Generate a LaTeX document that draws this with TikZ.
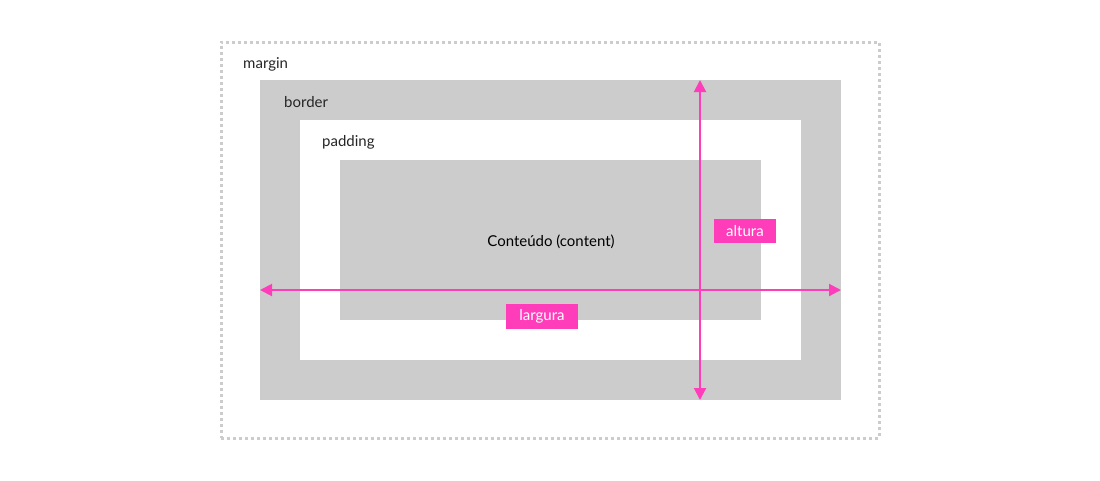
\documentclass[tikz,border=0pt]{standalone}
\usepackage{fontspec}
\setmainfont{Lato}
\usepackage{tikz}
\usetikzlibrary{arrows.meta}

\definecolor{boxgray}{HTML}{CCCCCC}
\definecolor{rosa}{HTML}{FF3DBB}

\begin{document}
\begin{tikzpicture}[x=1pt, y=-1pt,
		box/.style={shape=rectangle, inner sep=0pt, outer sep=0pt},
		tag/.style={shape=rectangle, fill=rosa, text=white, inner sep=0pt, font=\fontsize{15}{17}\selectfont},
		lbl/.style={anchor=west, text=black!85, inner sep=0pt, font=\fontsize{15}{17}\selectfont},
		medida/.style={draw=rosa, line width=2pt, {Triangle[length=12pt, width=12pt]}-{Triangle[length=12pt, width=12pt]}}]
			
			\useasboundingbox (0,0) rectangle (1100,480);
			
			\node[box, draw=boxgray, line width=3pt, dash pattern=on 3pt off 3pt, minimum width=658, minimum height=396] (margin) at (550,240) {};
			\node[box, fill=boxgray, minimum width=581, minimum height=320] (border) at (550.5,240) {};
			\node[box, fill=white, minimum width=501, minimum height=240] (padding) at (550.5,240) {};
			\node[box, fill=boxgray, minimum width=421, minimum height=160] (content) at (550.5,240) {};
			
			\node[lbl] (tmargin) at (243,64) {margin};
			\node[lbl] (tborder) at (284,102) {border};
			\node[lbl] (tpadding) at (322,142) {padding};
			\node[text=black, inner sep=0pt, font=\fontsize{15}{17}\selectfont] (tcontent) at (551,242) {Conteúdo (content)};
			
			\coordinate (l) at (260,290);
			\coordinate (r) at (841,290);
			\coordinate (t) at (700,80);
			\coordinate (b) at (700,400);
			
			\draw[medida] (l) -- (r);
			\draw[medida] (t) -- (b);
			
			\node[tag, minimum width=62, minimum height=24] (altura) at (745,231) {altura};
			\node[tag, minimum width=72, minimum height=25] (largura) at (542,316.5) {largura};
		\end{tikzpicture}
\end{document}
